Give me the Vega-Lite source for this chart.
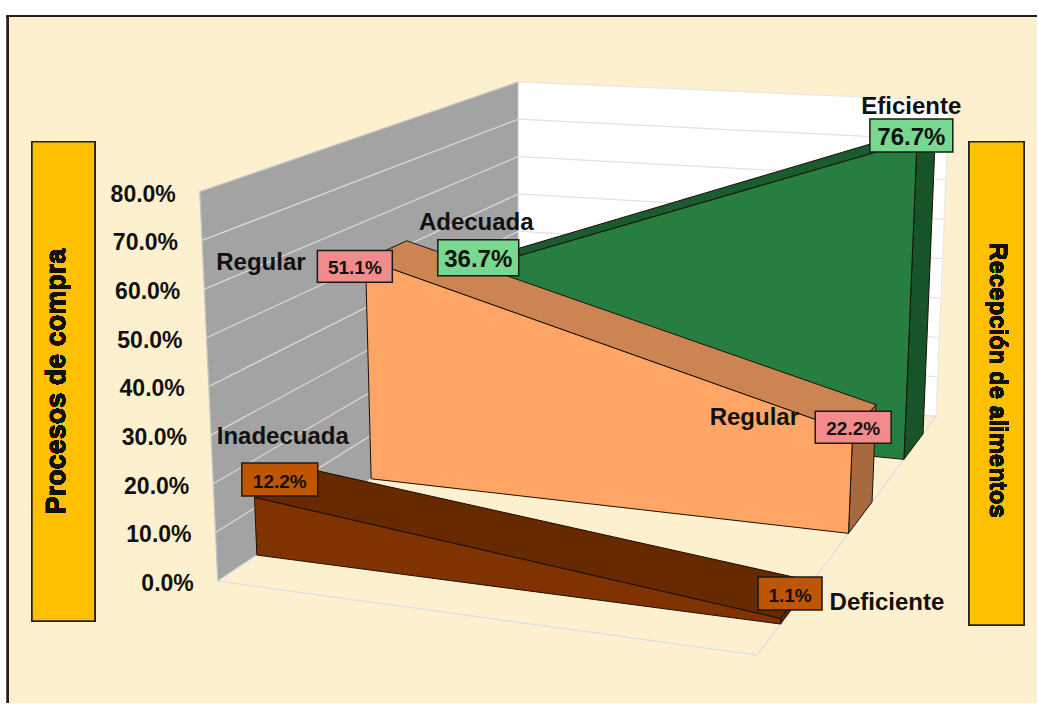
{
"$schema":"https://vega.github.io/schema/vega-lite/v6.json",
"width":1038,"height":704,"padding":0,"autosize":{"type":"fit","contains":"padding"},
"background":"#ffffff","config":{"view":{"stroke":null}},
"data":{"values":[
{"kind":"face","face":"leftWall","k":0,"u":0,"v":0,"w":0},{"kind":"face","face":"leftWall","k":1,"u":0,"v":1,"w":0},{"kind":"face","face":"leftWall","k":2,"u":0,"v":1,"w":80},{"kind":"face","face":"leftWall","k":3,"u":0,"v":0,"w":80},{"kind":"face","face":"leftWall","k":4,"u":0,"v":0,"w":0},
{"kind":"face","face":"backWall","k":0,"u":0,"v":1,"w":0},{"kind":"face","face":"backWall","k":1,"u":1,"v":1,"w":0},{"kind":"face","face":"backWall","k":2,"u":1,"v":1,"w":80},{"kind":"face","face":"backWall","k":3,"u":0,"v":1,"w":80},{"kind":"face","face":"backWall","k":4,"u":0,"v":1,"w":0},
{"kind":"face","face":"floor","k":0,"u":0,"v":0,"w":0},{"kind":"face","face":"floor","k":1,"u":1,"v":0,"w":0},{"kind":"face","face":"floor","k":2,"u":1,"v":1,"w":0},{"kind":"face","face":"floor","k":3,"u":0,"v":1,"w":0},{"kind":"face","face":"floor","k":4,"u":0,"v":0,"w":0},
{"kind":"grid","wall":"left","w":10,"u":0,"v":0},{"kind":"grid","wall":"left","w":10,"u":0,"v":1},{"kind":"grid","wall":"back","w":10,"u":0,"v":1},{"kind":"grid","wall":"back","w":10,"u":1,"v":1},
{"kind":"grid","wall":"left","w":20,"u":0,"v":0},{"kind":"grid","wall":"left","w":20,"u":0,"v":1},{"kind":"grid","wall":"back","w":20,"u":0,"v":1},{"kind":"grid","wall":"back","w":20,"u":1,"v":1},
{"kind":"grid","wall":"left","w":30,"u":0,"v":0},{"kind":"grid","wall":"left","w":30,"u":0,"v":1},{"kind":"grid","wall":"back","w":30,"u":0,"v":1},{"kind":"grid","wall":"back","w":30,"u":1,"v":1},
{"kind":"grid","wall":"left","w":40,"u":0,"v":0},{"kind":"grid","wall":"left","w":40,"u":0,"v":1},{"kind":"grid","wall":"back","w":40,"u":0,"v":1},{"kind":"grid","wall":"back","w":40,"u":1,"v":1},
{"kind":"grid","wall":"left","w":50,"u":0,"v":0},{"kind":"grid","wall":"left","w":50,"u":0,"v":1},{"kind":"grid","wall":"back","w":50,"u":0,"v":1},{"kind":"grid","wall":"back","w":50,"u":1,"v":1},
{"kind":"grid","wall":"left","w":60,"u":0,"v":0},{"kind":"grid","wall":"left","w":60,"u":0,"v":1},{"kind":"grid","wall":"back","w":60,"u":0,"v":1},{"kind":"grid","wall":"back","w":60,"u":1,"v":1},
{"kind":"grid","wall":"left","w":70,"u":0,"v":0},{"kind":"grid","wall":"left","w":70,"u":0,"v":1},{"kind":"grid","wall":"back","w":70,"u":0,"v":1},{"kind":"grid","wall":"back","w":70,"u":1,"v":1},
{"kind":"serie","face":"green_top","k":0,"u":0,"v":0.82,"w":36.7},{"kind":"serie","face":"green_top","k":1,"u":1,"v":0.82,"w":76.7},{"kind":"serie","face":"green_top","k":2,"u":1,"v":0.927,"w":76.7},{"kind":"serie","face":"green_top","k":3,"u":0,"v":0.927,"w":36.7},{"kind":"serie","face":"green_top","k":4,"u":0,"v":0.82,"w":36.7},
{"kind":"serie","face":"green_side","k":0,"u":1,"v":0.82,"w":0},{"kind":"serie","face":"green_side","k":1,"u":1,"v":0.927,"w":0},{"kind":"serie","face":"green_side","k":2,"u":1,"v":0.927,"w":76.7},{"kind":"serie","face":"green_side","k":3,"u":1,"v":0.82,"w":76.7},{"kind":"serie","face":"green_side","k":4,"u":1,"v":0.82,"w":0},
{"kind":"serie","face":"green_front","k":0,"u":0,"v":0.82,"w":0},{"kind":"serie","face":"green_front","k":1,"u":1,"v":0.82,"w":0},{"kind":"serie","face":"green_front","k":2,"u":1,"v":0.82,"w":76.7},{"kind":"serie","face":"green_front","k":3,"u":0,"v":0.82,"w":36.7},{"kind":"serie","face":"green_front","k":4,"u":0,"v":0.82,"w":0},
{"kind":"serie","face":"orange_top","k":0,"u":0,"v":0.51,"w":51.1},{"kind":"serie","face":"orange_top","k":1,"u":1,"v":0.51,"w":22.2},{"kind":"serie","face":"orange_top","k":2,"u":1,"v":0.642,"w":22.2},{"kind":"serie","face":"orange_top","k":3,"u":0,"v":0.642,"w":51.1},{"kind":"serie","face":"orange_top","k":4,"u":0,"v":0.51,"w":51.1},
{"kind":"serie","face":"orange_side","k":0,"u":1,"v":0.51,"w":0},{"kind":"serie","face":"orange_side","k":1,"u":1,"v":0.642,"w":0},{"kind":"serie","face":"orange_side","k":2,"u":1,"v":0.642,"w":22.2},{"kind":"serie","face":"orange_side","k":3,"u":1,"v":0.51,"w":22.2},{"kind":"serie","face":"orange_side","k":4,"u":1,"v":0.51,"w":0},
{"kind":"serie","face":"orange_front","k":0,"u":0,"v":0.51,"w":0},{"kind":"serie","face":"orange_front","k":1,"u":1,"v":0.51,"w":0},{"kind":"serie","face":"orange_front","k":2,"u":1,"v":0.51,"w":22.2},{"kind":"serie","face":"orange_front","k":3,"u":0,"v":0.51,"w":51.1},{"kind":"serie","face":"orange_front","k":4,"u":0,"v":0.51,"w":0},
{"kind":"serie","face":"brown_top","k":0,"u":0,"v":0.13,"w":12.2},{"kind":"serie","face":"brown_top","k":1,"u":1,"v":0.13,"w":1.1},{"kind":"serie","face":"brown_top","k":2,"u":1,"v":0.29,"w":1.1},{"kind":"serie","face":"brown_top","k":3,"u":0,"v":0.29,"w":12.2},{"kind":"serie","face":"brown_top","k":4,"u":0,"v":0.13,"w":12.2},
{"kind":"serie","face":"brown_side","k":0,"u":1,"v":0.13,"w":0},{"kind":"serie","face":"brown_side","k":1,"u":1,"v":0.29,"w":0},{"kind":"serie","face":"brown_side","k":2,"u":1,"v":0.29,"w":1.1},{"kind":"serie","face":"brown_side","k":3,"u":1,"v":0.13,"w":1.1},{"kind":"serie","face":"brown_side","k":4,"u":1,"v":0.13,"w":0},
{"kind":"serie","face":"brown_front","k":0,"u":0,"v":0.13,"w":0},{"kind":"serie","face":"brown_front","k":1,"u":1,"v":0.13,"w":0},{"kind":"serie","face":"brown_front","k":2,"u":1,"v":0.13,"w":1.1},{"kind":"serie","face":"brown_front","k":3,"u":0,"v":0.13,"w":12.2},{"kind":"serie","face":"brown_front","k":4,"u":0,"v":0.13,"w":0},
{"kind":"tick","u":0,"v":0,"w":0,"pct":"0.0%"},{"kind":"tick","u":0,"v":0,"w":10,"pct":"10.0%"},{"kind":"tick","u":0,"v":0,"w":20,"pct":"20.0%"},{"kind":"tick","u":0,"v":0,"w":30,"pct":"30.0%"},{"kind":"tick","u":0,"v":0,"w":40,"pct":"40.0%"},{"kind":"tick","u":0,"v":0,"w":50,"pct":"50.0%"},{"kind":"tick","u":0,"v":0,"w":60,"pct":"60.0%"},{"kind":"tick","u":0,"v":0,"w":70,"pct":"70.0%"},{"kind":"tick","u":0,"v":0,"w":80,"pct":"80.0%"},
{"kind":"label","serie":"green","cat":"Eficiente","pct":"76.7%","u":1,"v":0.873,"w":76.7},
{"kind":"label","serie":"green","cat":"Adecuada","pct":"36.7%","u":0,"v":0.873,"w":36.7},
{"kind":"label","serie":"orange","cat":"Regular","pct":"51.1%","u":0,"v":0.575,"w":51.1},
{"kind":"label","serie":"orange","cat":"Regular","pct":"22.2%","u":1,"v":0.578,"w":22.2},
{"kind":"label","serie":"brown","cat":"Deficiente","pct":"1.1%","u":1,"v":0.21,"w":1.1},
{"kind":"label","serie":"brown","cat":"Inadecuada","pct":"12.2%","u":0,"v":0.21,"w":12.2}
]},
"transform":[
{"calculate":"(1-datum.v)*((1-datum.u)*218+datum.u*758)+datum.v*((1-datum.u)*519+datum.u*937)","as":"bx"},
{"calculate":"(1-datum.v)*((1-datum.u)*582+datum.u*656)+datum.v*((1-datum.u)*381+datum.u*417)","as":"by"},
{"calculate":"(1-datum.v)*((1-datum.u)*200+datum.u*775)+datum.v*((1-datum.u)*519+datum.u*950)","as":"tx"},
{"calculate":"(1-datum.v)*((1-datum.u)*192+datum.u*244)+datum.v*((1-datum.u)*82+datum.u*101)","as":"ty"},
{"calculate":"(1-datum.w/80)*datum.bx+(datum.w/80)*datum.tx","as":"px"},
{"calculate":"(1-datum.w/80)*datum.by+(datum.w/80)*datum.ty","as":"py"}
],
"encoding":{
"x":{"type":"quantitative","scale":{"domain":[0,1038]},"axis":null},
"y":{"type":"quantitative","scale":{"domain":[704,0]},"axis":null}
},
"layer":[
{"mark":{"type":"rect","fill":"#FDF0CF"},"encoding":{"x":{"datum":7},"x2":{"datum":1038},"y":{"datum":16},"y2":{"datum":704}}},
{"mark":{"type":"rule","stroke":"#222222","strokeWidth":2},"encoding":{"x":{"datum":7},"x2":{"datum":1038},"y":{"datum":16}}},
{"mark":{"type":"rule","stroke":"#222222","strokeWidth":2},"encoding":{"x":{"datum":8},"y":{"datum":16},"y2":{"datum":704}}},
{"transform":[{"filter":"datum.kind=='face'"}],
 "mark":{"type":"line","strokeWidth":1.2},
 "encoding":{"x":{"field":"px"},"y":{"field":"py"},"detail":{"field":"face"},"order":{"field":"k"},
  "fill":{"field":"face","legend":null,"scale":{"domain":["leftWall","backWall","floor","green_top","green_side","green_front","orange_top","orange_side","orange_front","brown_top","brown_side","brown_front","green","orange","brown"],"range":["#A3A3A3","#FFFFFF","#FDF0CF","#195C2E","#17542A","#267F40","#CC8552","#A9693F","#FFA666","#662900","#5C2600","#803300","#78D890","#F28C8C","#C05500"]}},
  "stroke":{"field":"face","legend":null,"scale":{"domain":["leftWall","backWall","floor","left","back"],"range":["#C4C4C4","#E8E8E8","#D9DEE6","#DADADA","#E2E2E2"]}}}},
{"transform":[{"filter":"datum.kind=='grid'"}],
 "mark":{"type":"line","strokeWidth":1.2},
 "encoding":{"x":{"field":"px"},"y":{"field":"py"},"detail":[{"field":"w"},{"field":"wall"}],
  "stroke":{"field":"wall","legend":null,"scale":{"domain":["leftWall","backWall","floor","left","back"],"range":["#C4C4C4","#E8E8E8","#D9DEE6","#DADADA","#E2E2E2"]}}}},
{"transform":[{"filter":"datum.kind=='serie'"}],
 "mark":{"type":"line","stroke":"#1a1008","strokeWidth":1},
 "encoding":{"x":{"field":"px"},"y":{"field":"py"},"detail":{"field":"face"},"order":{"field":"k"},
  "fill":{"field":"face","legend":null,"scale":{"domain":["leftWall","backWall","floor","green_top","green_side","green_front","orange_top","orange_side","orange_front","brown_top","brown_side","brown_front","green","orange","brown"],"range":["#A3A3A3","#FFFFFF","#FDF0CF","#195C2E","#17542A","#267F40","#CC8552","#A9693F","#FFA666","#662900","#5C2600","#803300","#78D890","#F28C8C","#C05500"]}}}},
{"transform":[{"filter":"datum.kind=='tick'"}],
 "mark":{"type":"text","align":"right","baseline":"middle","dx":-24,"dy":3,"font":"Liberation Sans","fontWeight":"bold","fontSize":23,"fill":"#111111"},
 "encoding":{"x":{"field":"px"},"y":{"field":"py"},"text":{"field":"pct"}}},
{"transform":[{"filter":"datum.kind=='label'"},
 {"calculate":"{'76.7%':[-15,3,83,33],'36.7%':[-1,-6,81,36],'51.1%':[-31,16,75,32],'22.2%':[-11.5,9,76,32],'1.1%':[-5,-6,64,33],'12.2%':[1,-3,76,33]}[datum.pct]","as":"n"},
 {"calculate":"datum.px+datum.n[0]","as":"cx"},{"calculate":"datum.py+datum.n[1]","as":"cy"},
 {"calculate":"datum.cx-datum.n[2]/2","as":"x0"},{"calculate":"datum.cx+datum.n[2]/2","as":"x1"},
 {"calculate":"datum.cy-datum.n[3]/2","as":"y0"},{"calculate":"datum.cy+datum.n[3]/2","as":"y1"},
 {"calculate":"{'76.7%':[0,-31],'36.7%':[-2,-37],'51.1%':[-94,-6],'22.2%':[-99,-12],'1.1%':[97,6.5],'12.2%':[3,-45.5]}[datum.pct]","as":"c"},
 {"calculate":"datum.cx+datum.c[0]","as":"catx"},{"calculate":"datum.cy+datum.c[1]","as":"caty"},
 {"calculate":"{'76.7%':24,'36.7%':24,'51.1%':19,'22.2%':19,'1.1%':19,'12.2%':19}[datum.pct]","as":"fs"}],
 "layer":[
 {"mark":{"type":"rect","stroke":"#1a1a1a","strokeWidth":1.5},
  "encoding":{"x":{"field":"x0"},"x2":{"field":"x1"},"y":{"field":"y0"},"y2":{"field":"y1"},
   "fill":{"field":"serie","legend":null,"scale":{"domain":["leftWall","backWall","floor","green_top","green_side","green_front","orange_top","orange_side","orange_front","brown_top","brown_side","brown_front","green","orange","brown"],"range":["#A3A3A3","#FFFFFF","#FDF0CF","#195C2E","#17542A","#267F40","#CC8552","#A9693F","#FFA666","#662900","#5C2600","#803300","#78D890","#F28C8C","#C05500"]}}}},
 {"mark":{"type":"text","align":"center","baseline":"middle","dy":2,"font":"Liberation Sans","fontWeight":"bold","fill":"#111111"},
  "encoding":{"x":{"field":"cx"},"y":{"field":"cy"},"text":{"field":"pct"},"size":{"field":"fs","type":"quantitative","scale":null}}},
 {"mark":{"type":"text","align":"center","baseline":"middle","dy":2.5,"font":"Liberation Sans","fontWeight":"bold","fontSize":24,"fill":"#111111"},
  "encoding":{"x":{"field":"catx"},"y":{"field":"caty"},"text":{"field":"cat"}}}
 ]},
{"mark":{"type":"rect","fill":"#FFC000","stroke":"#222222","strokeWidth":1.5},"encoding":{"x":{"datum":32},"x2":{"datum":95},"y":{"datum":142},"y2":{"datum":622}}},
{"mark":{"type":"rect","fill":"#FFC000","stroke":"#222222","strokeWidth":1.5},"encoding":{"x":{"datum":970},"x2":{"datum":1025},"y":{"datum":142},"y2":{"datum":626}}},
{"mark":{"type":"text","angle":270,"align":"center","baseline":"middle","font":"Liberation Sans","fontWeight":"bold","fontSize":27,"opacity":0.99,"fill":"#111111","text":"Procesos de compra"},"encoding":{"x":{"datum":57},"y":{"datum":382}}},
{"mark":{"type":"text","angle":90,"align":"center","baseline":"middle","font":"Liberation Sans","fontWeight":"bold","fontSize":24,"opacity":0.99,"fill":"#111111","text":"Recepción de alimentos"},"encoding":{"x":{"datum":998},"y":{"datum":381}}}
]
}
